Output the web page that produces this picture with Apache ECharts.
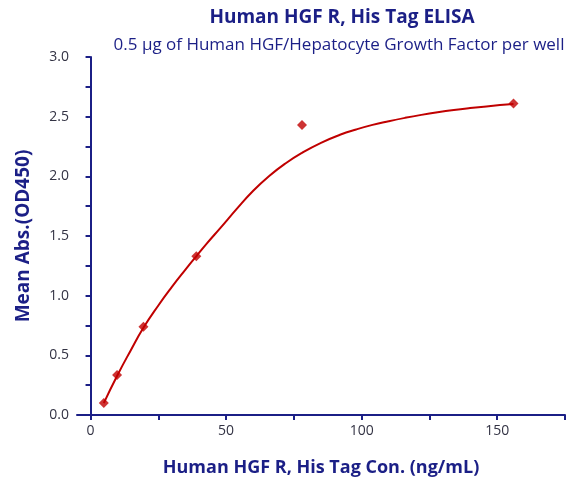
<!DOCTYPE html>
<html>
<head>
<meta charset="utf-8">
<script src="https://cdn.jsdelivr.net/npm/echarts@6/dist/echarts.min.js"></script>
<style>html,body{margin:0;padding:0;background:#fff}#main{width:567px;height:485px}</style>
</head>
<body>
<div id="main"></div>
<script>
// Measured data points
var conc = [4.88, 9.77, 19.5, 39, 78, 156];
var absorbance = [0.10, 0.335, 0.74, 1.33, 2.43, 2.61];
// Fitted curve
var curveX = [4.88, 9.77, 14.8, 19.5, 25, 30, 35, 39, 43, 48, 54, 60, 66, 72, 78, 85, 92, 98, 104, 110, 116, 122, 128, 134, 140, 146, 151, 156];
var curveY = [0.10, 0.327, 0.541, 0.731, 0.918, 1.073, 1.218, 1.33, 1.44, 1.57, 1.729, 1.879, 2.005, 2.11, 2.197, 2.281, 2.348, 2.393, 2.431, 2.462, 2.49, 2.515, 2.537, 2.556, 2.572, 2.586, 2.597, 2.607];
// Ticks and labels
var xTicks = [0, 25, 50, 75, 100, 125, 150, 175];
var xLabels = [0, 50, 100, 150];
var yTicks = [0, 0.25, 0.5, 0.75, 1, 1.25, 1.5, 1.75, 2, 2.25, 2.5, 2.75, 3];
var yLabels = [0, 0.5, 1, 1.5, 2, 2.5, 3];

var navy = '#1b1f86';
var red = '#c00000';
var font = 'Open Sans';

var chart = echarts.init(document.getElementById('main'), null, {renderer: 'canvas'});
chart.setOption({
  animation: false,
  backgroundColor: '#fff',
  grid: {left: 77, right: 2, top: 57, bottom: 70, containLabel: false},
  graphic: [
    {type: 'text', x: 342, y: 18, style: {text: 'Human HGF R, His Tag ELISA', textAlign: 'center', textVerticalAlign: 'middle', font: 'bold 19px "Open Sans"', fill: navy}},
    {type: 'text', x: 339, y: 45, style: {text: '0.5 μg of Human HGF/Hepatocyte Growth Factor per well', textAlign: 'center', textVerticalAlign: 'middle', font: '17px "Open Sans"', fill: navy}}
  ],
  xAxis: {
    type: 'value', min: -5, max: 175,
    name: 'Human HGF R, His Tag Con. (ng/mL)', nameLocation: 'middle', nameGap: 44,
    nameTextStyle: {color: navy, fontWeight: 'bold', fontSize: 18, fontFamily: font},
    axisLine: {show: true, lineStyle: {color: navy, width: 2}},
    axisTick: {show: true, length: 5, customValues: xTicks, lineStyle: {color: navy, width: 2}},
    axisLabel: {customValues: xLabels, color: '#333344', fontSize: 14, fontFamily: font, margin: 9},
    splitLine: {show: false}
  },
  yAxis: {
    type: 'value', min: 0, max: 3,
    name: 'Mean Abs.(OD450)', nameLocation: 'middle', nameGap: 44,
    nameTextStyle: {color: navy, fontWeight: 'bold', fontSize: 19, fontFamily: font},
    axisLine: {show: true, lineStyle: {color: navy, width: 2}},
    axisTick: {show: true, length: 5, customValues: yTicks, lineStyle: {color: navy, width: 2}},
    axisLabel: {customValues: yLabels, color: '#333344', fontSize: 14, fontFamily: font, margin: 8,
      formatter: function (v) { return v.toFixed(1); }},
    splitLine: {show: false}
  },
  series: [
    {
      type: 'line', smooth: 0.5, showSymbol: false, symbol: 'none',
      data: curveX.map(function (x, i) { return [x, curveY[i]]; }),
      lineStyle: {color: red, width: 2}, z: 2
    },
    {
      type: 'scatter', symbol: 'diamond', symbolSize: 10,
      data: conc.map(function (x, i) { return [x, absorbance[i]]; }),
      itemStyle: {color: red}, z: 3
    }
  ]
});
</script>
</body>
</html>
